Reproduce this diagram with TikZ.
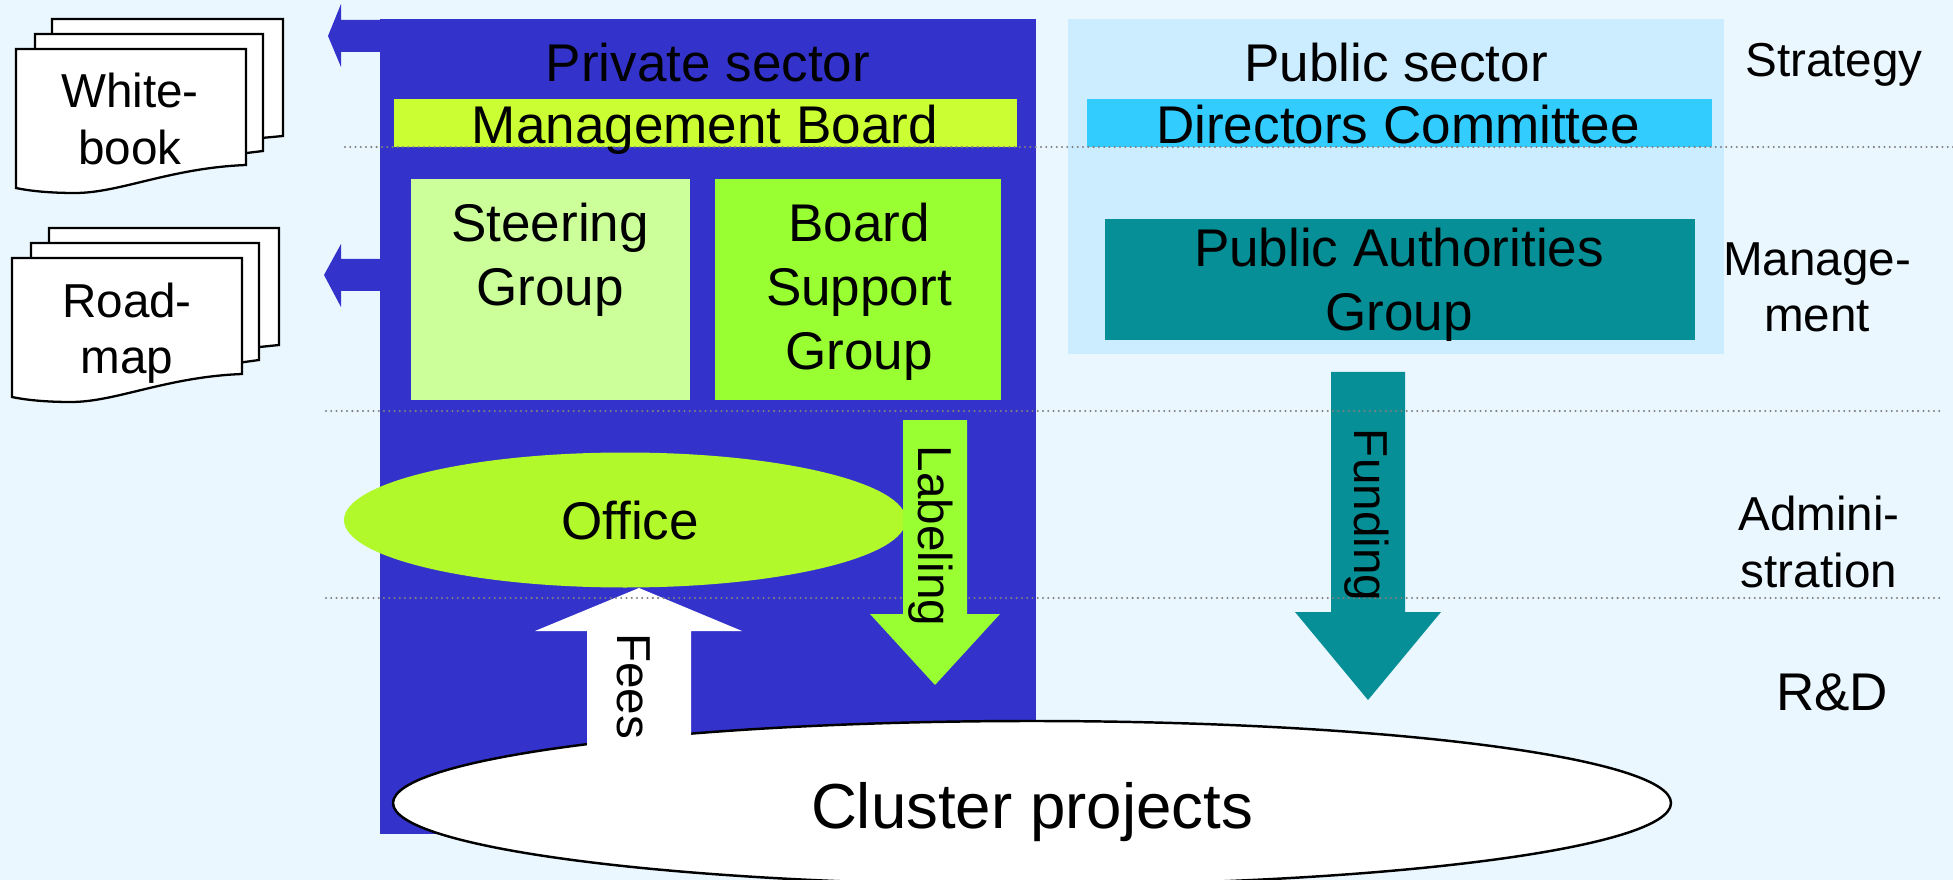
\documentclass[tikz,border=0pt]{standalone}
\usepackage{fontspec}
\setmainfont{Liberation Sans}
\definecolor{pagebg}{HTML}{EBF7FF}
\definecolor{privblue}{HTML}{3333CC}
\definecolor{pubpale}{HTML}{CCECFF}
\definecolor{pubcyan}{HTML}{33CCFF}
\definecolor{pubteal}{HTML}{068F96}
\definecolor{limeyel}{HTML}{CCFF33}
\definecolor{limepale}{HTML}{CCFF99}
\definecolor{limegreen}{HTML}{99FF33}
\definecolor{officelime}{HTML}{B2F92B}
\definecolor{dotgrey}{HTML}{808080}
\tikzset{
  bigtext/.style={inner sep=0pt, align=center, font=\fontsize{15.1}{18.2}\selectfont},
  sidetext/.style={inner sep=0pt, align=center, font=\fontsize{13.55}{16}\selectfont},
  level/.style={dotgrey, line width=0.65pt, line cap=round, dash pattern=on 0pt off 1.5pt},
  sheet/.style={draw=black, fill=white, line width=0.65pt}
}
\begin{document}
\begin{tikzpicture}[x=0.1mm,y=-0.1mm]
    \useasboundingbox (0,0) rectangle (1953,880);
    \fill [pagebg] (0,0) rectangle (1953,880);
    \fill [pubpale] (1068,19) rectangle (1724,354);
    \fill [pubcyan] (1087,99) rectangle (1712,147);
    \fill [pubteal] (1105,219) rectangle (1695,340);
    \fill [privblue] (380,19) rectangle (1036,834);
    \fill [privblue] (380,20) -- (341,20) -- (341,4) -- (328,36) -- (341,67) -- (341,52) -- (380,52) -- cycle;
    \fill [privblue] (380,259) -- (341,259) -- (341,244) -- (324,275) -- (341,307) -- (341,291) -- (380,291) -- cycle;
    \fill [limeyel] (394,99) rectangle (1017,147);
    \fill [limepale] (411,179) rectangle (690,400);
    \fill [limegreen] (715,179) rectangle (1001,400);
    \fill [officelime] (625,520) ellipse (281 and 67.5);
    \fill [pubteal] (1331,372) -- (1405,372) -- (1405,612) -- (1441,612) -- (1368,700) -- (1295,612) -- (1331,612) -- cycle;
    \draw [black, fill=white, line width=0.7pt] (1032,803) ellipse (639 and 82);
    \fill [white] (587,760) -- (587,631) -- (535,631) -- (639,588) -- (742,631) -- (691,631) -- (691,760) -- cycle;
    \draw [level] (345,147) -- (1953,147);
    \draw [level] (326,411) -- (1940,411);
    \draw [level] (326,598) -- (1940,598);
    \fill [limegreen] (903,420) -- (967,420) -- (967,614) -- (1000,614) -- (935,685) -- (870,614) -- (903,614) -- cycle;
    \draw [sheet] (52,19) -- (283,19) -- (283,136) -- (240,140) -- (52,140) -- cycle;
    \draw [sheet] (35,34) -- (263,34) -- (263,151) -- (230,155) -- (35,155) -- cycle;
    \draw [sheet] (16,49) -- (246,49) -- (246,165) .. controls (170,168) and (120,193) .. (75,193) .. controls (50,193) and (30,191) .. (16,188) -- cycle;
    \draw [sheet] (49,228) -- (279,228) -- (279,345) -- (240,349) -- (49,349) -- cycle;
    \draw [sheet] (31,243) -- (259,243) -- (259,360) -- (230,364) -- (31,364) -- cycle;
    \draw [sheet] (12,258) -- (242,258) -- (242,374) .. controls (166,377) and (116,402) .. (71,402) .. controls (46,402) and (26,400) .. (12,397) -- cycle;
    \node [sidetext] (whitebook) at (130,119) {White-\\book};
    \node [sidetext] (roadmap) at (127,333) {Road-\\map};
    \node [bigtext] (private) at (708,63) {Private sector};
    \node [bigtext] (mgmtboard) at (705,130) {Management Board};
    \node [bigtext] (steering) at (550,260) {Steering\\Group};
    \node [bigtext] (support) at (859,292) {Board\\Support\\Group};
    \node [bigtext] (office) at (630,521) {Office};
    \node [bigtext] (public) at (1396,63) {Public sector};
    \node [bigtext] (directors) at (1398,125) {Directors Committee};
    \node [bigtext] (authorities) at (1399,285) {Public Authorities\\Group};
    \node [sidetext, rotate=-90] (labeling) at (931,536) {Labeling};
    \node [sidetext, rotate=-90] (funding) at (1367,515) {Funding};
    \node [sidetext, rotate=-90] (fees) at (634,686) {Fees};
    \node [font=\fontsize{18.1}{21}\selectfont, inner sep=0pt] (cluster) at (1032,812) {Cluster projects};
    \node [sidetext] (strategy) at (1834,65) {Strategy};
    \node [sidetext] (management) at (1817,287) {Manage-\\ment};
    \node [sidetext] (admin) at (1819,542) {Admini-\\stration};
    \node [font=\fontsize{15.1}{18}\selectfont, inner sep=0pt] (rnd) at (1832,692) {R\&D};
\end{tikzpicture}
\end{document}
